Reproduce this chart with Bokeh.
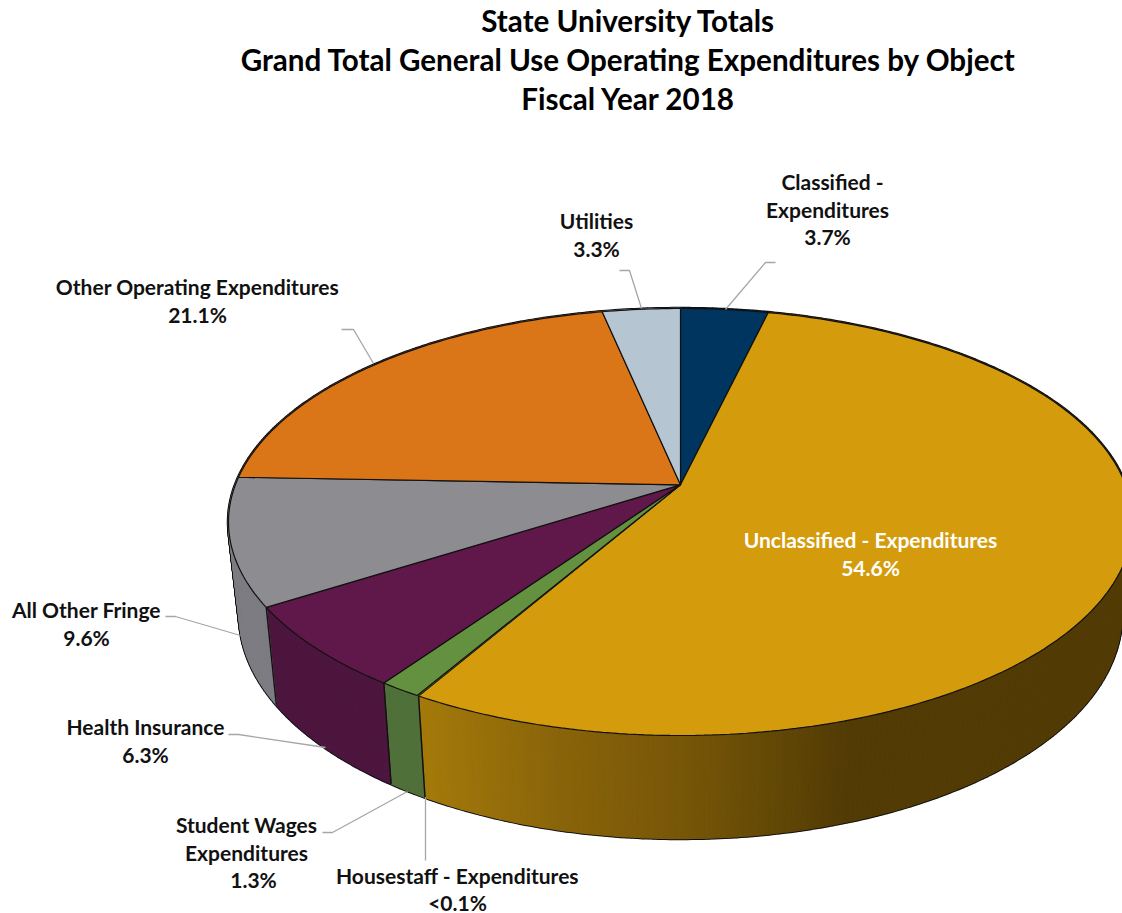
import numpy as np
from bokeh.plotting import figure
from bokeh.models import Range1d
from bokeh.core.properties import value
from bokeh.embed import file_html
from bokeh.resources import INLINE

# ---- data (clockwise from 12 o'clock) ----
categories = ["Classified - Expenditures", "Unclassified - Expenditures", "Housestaff - Expenditures",
              "Student Wages Expenditures", "Health Insurance", "All Other Fringe",
              "Other Operating Expenditures", "Utilities"]
shares = [3.7, 54.6, 0.05, 1.3, 6.3, 9.6, 21.1, 3.3]
pct_labels = ["3.7%", "54.6%", "<0.1%", "1.3%", "6.3%", "9.6%", "21.1%", "3.3%"]
top_colors = ["#00355F", "#D49C0C", "#8A8A2A", "#64913F", "#60174A", "#8D8C91", "#DB7618", "#B6C5D2"]
side_colors = ["#002340", "#8A640A", "#5A5A1A", "#50703A", "#4D163F", "#7C7C82", "#A05510", "#8A98A5"]

title_lines = ["State University Totals",
               "Grand Total General Use Operating Expenditures by Object",
               "Fiscal Year 2018"]
FONT = "Lato"
INK = "#111111"

# ---- pie geometry in page pixels ----
CX, CY_TOP, A_TOP, B_TOP = 680.0, 521.5, 452.0, 213.5
CY_BOT, A_BOT, B_BOT = 615.0, 441.0, 223.0
V0 = 0.174  # perspective shift of the pie centre


def disk(t):
    """Pie angle (clockwise from top) -> normalised, perspective-shifted disk."""
    x, y = np.sin(t), np.cos(t)
    den = 1 + V0 * y
    return x * np.sqrt(1 - V0 ** 2) / den, (y + V0) / den


def top_xy(t):
    u, v = disk(t)
    return CX + A_TOP * u, CY_TOP - B_TOP * v


def bot_xy(t):
    u, v = disk(t)
    return CX + A_BOT * u, CY_BOT - B_BOT * v


apex = (CX, CY_TOP - B_TOP * V0)
edges = 2 * np.pi * np.cumsum([0] + shares) / sum(shares)

p = figure(width=1122, height=913, output_backend="svg", toolbar_location=None,
           x_range=Range1d(0, 1122), y_range=Range1d(913, 0), min_border=0)
p.axis.visible = False
p.grid.visible = False
p.outline_line_color = None
p.background_fill_color = "white"

# side wall: one quad per small angular step
GRAD_X = [420, 560, 700, 850, 1140]
GRAD_RGB = np.array([[0xA4, 0x7A, 0x0A], [0x8A, 0x64, 0x0A], [0x74, 0x55, 0x08], [0x52, 0x3B, 0x05], [0x52, 0x3B, 0x05]])
qx, qy, qc = [], [], []
for i in range(len(shares)):
    n = max(2, int(shares[i] * 6))
    ts = np.linspace(edges[i], edges[i + 1], n + 1)
    for a, b in zip(ts[:-1], ts[1:]):
        x0, y0 = top_xy(a); x1, y1 = top_xy(b)
        x2, y2 = bot_xy(b); x3, y3 = bot_xy(a)
        qx.append([x0, x1, x2, x3]); qy.append([y0, y1, y2, y3])
        if i == 1:
            rgb = [np.interp((x0 + x1) / 2, GRAD_X, GRAD_RGB[:, k]) for k in range(3)]
            qc.append("#%02x%02x%02x" % tuple(int(c) for c in rgb))
        else:
            qc.append(side_colors[i])

p.patches(qx, qy, fill_color=INK, line_color=INK, line_width=3.4)   # gives the outer contour
p.patches(qx, qy, fill_color=qc, line_color=qc, line_width=1.4)

# wall edges between the visible slices (the Housestaff sliver reads as one line)
for i in [2, 4, 5]:
    xa, ya = top_xy(edges[i])
    xb, yb = bot_xy(edges[i])
    p.line([xa, xb], [ya, yb], line_color=INK, line_width=1.4)

# top faces
for i in range(len(shares)):
    n = max(2, int(shares[i] * 4))
    ts = np.linspace(edges[i], edges[i + 1], n + 1)
    x, y = top_xy(ts)
    p.patch([apex[0], *x], [apex[1], *y], fill_color=top_colors[i], line_color=INK,
            line_width=0.6 if shares[i] < 0.1 else 1.2)

# leader lines
leaders = [
    ([725, 765, 775], [309, 262, 262]),
    ([641, 629, 619], [308, 270, 270]),
    ([373, 353, 341], [363, 329, 329]),
    ([240, 175, 165], [635, 616, 616]),
    ([325, 238, 228], [747, 734, 734]),
    ([407, 332, 322], [791, 832, 832]),
    ([425, 425], [797, 860]),
]
for lx, ly in leaders:
    p.line(lx, ly, line_color="#A6A6A6", line_width=1.3)

# texts
def put(txt, x, y, size, color="#111111"):
    p.text([x], [y - 1.5], text=[txt], text_font=value(FONT), text_font_style="bold",
           text_font_size=size, text_color=color, text_align="center", text_baseline="middle")

for line, y in zip(title_lines, [21, 60, 99]):
    put(line, 628, y, "29.6px", "#000000")

S = "21px"
put("Classified -", 832, 182, S); put("Expenditures", 827, 210, S); put(pct_labels[0], 827, 237, S)
put(categories[7], 596, 221, S); put(pct_labels[7], 596, 249, S)
put(categories[6], 197, 287, S); put(pct_labels[6], 197, 315, S)
put(categories[1], 870, 540, S, "#FFFFFF"); put(pct_labels[1], 870, 568, S, "#FFFFFF")
put(categories[5], 86, 610, S); put(pct_labels[5], 86, 638, S)
put(categories[4], 145, 727, S); put(pct_labels[4], 145, 755, S)
put("Student Wages", 246, 825, S); put("Expenditures", 246, 853, S); put(pct_labels[3], 253, 880, S)
put(categories[2], 457, 876, S); put(pct_labels[2], 457, 903, S)

open("out.html", "w").write(file_html(p, INLINE))
